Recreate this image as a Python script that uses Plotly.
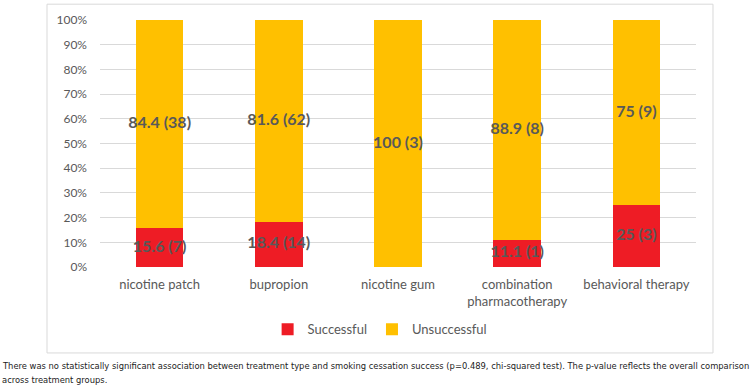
import plotly.graph_objects as go

categories = ["nicotine patch", "bupropion", "nicotine gum", "combination<br>pharmacotherapy", "behavioral therapy"]
successful_pct = [15.6, 18.4, 0, 11.1, 25]
successful_n = [7, 14, 0, 1, 3]
unsuccessful_pct = [84.4, 81.6, 100, 88.9, 75]
unsuccessful_n = [38, 62, 3, 8, 9]
y_ticks = [0, 10, 20, 30, 40, 50, 60, 70, 80, 90, 100]
caption = ["There was no statistically significant association between treatment type and smoking cessation success (p=0.489, chi-squared test). The p-value reflects the overall comparison",
           "across treatment groups."]

RED = "#EE1C25"
GOLD = "#FFC000"
GREY = "#595959"
FONT = "Lato"

fig = go.Figure()
fig.add_bar(x=categories, y=[v / 100 for v in successful_pct], name="Successful",
            marker=dict(color=RED, line=dict(width=0)), hoverinfo="skip")
fig.add_bar(x=categories, y=[v / 100 for v in unsuccessful_pct], name="Unsuccessful",
            marker=dict(color=GOLD, line=dict(width=0)), hoverinfo="skip")

# data labels at the middle of each segment
lx, ly, lt = [], [], []
for c, sp, sn, up, un in zip(categories, successful_pct, successful_n, unsuccessful_pct, unsuccessful_n):
    if sp > 0:
        lx.append(c); ly.append(sp / 200); lt.append(f"{sp:g} ({sn})")
    if up > 0:
        lx.append(c); ly.append((sp + up / 2) / 100); lt.append(f"{up:g} ({un})")
fig.add_scatter(x=lx, y=ly, text=lt, mode="text", showlegend=False, hoverinfo="skip",
                textfont=dict(family=FONT, size=16, color=GREY, weight="bold"))

fig.update_layout(
    width=754, height=387,
    margin=dict(l=100, r=58, t=17, b=120),
    paper_bgcolor="white", plot_bgcolor="white",
    barmode="stack", bargap=0.6,
    font=dict(family=FONT, size=13, color=GREY),
    legend=dict(orientation="h", x=0.47, xanchor="center", y=-0.252, yanchor="middle",
                font=dict(family=FONT, size=13, color=GREY), traceorder="normal",
                itemwidth=30),
    xaxis=dict(showgrid=False, showline=False, zeroline=False, ticks="",
               tickfont=dict(family=FONT, size=13, color=GREY), ticklabelstandoff=8),
    yaxis=dict(range=[0, 1], tickvals=[t / 100 for t in y_ticks], tickformat=".0%",
               showgrid=True, gridcolor="#D9D9D9", gridwidth=1, zeroline=False, showline=False,
               tickfont=dict(family=FONT, size=12, color=GREY), ticks="", ticklabelstandoff=12),
    shapes=[dict(type="rect", xref="paper", yref="paper", x0=-0.0889, x1=1.0285, y0=-0.348, y1=1.064,
                 line=dict(color="#D9D9D9", width=1), fillcolor="rgba(0,0,0,0)", layer="below")],
)

for i, line in enumerate(caption):
    fig.add_annotation(text=line, xref="paper", yref="paper", x=-0.168, xanchor="left",
                       y=(267 - (367 + 13.5 * i)) / 250, yanchor="middle", showarrow=False,
                       font=dict(family="DejaVu Sans Condensed", size=9.3, color="#222222"))

fig.write_html("out.html", config={"displayModeBar": False},
               post_script="document.body.style.margin='0';")
